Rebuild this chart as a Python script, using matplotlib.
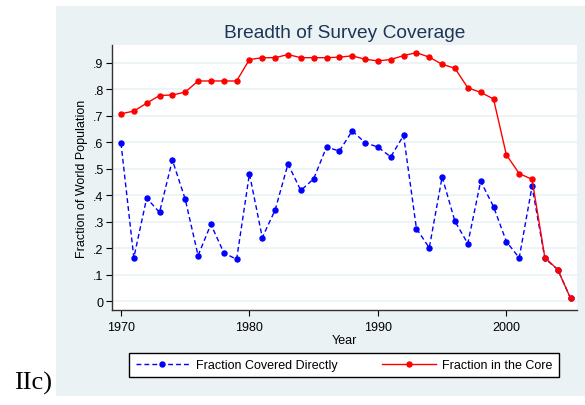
import numpy as np
import matplotlib
matplotlib.use('Agg')
import matplotlib.pyplot as plt
from matplotlib.patches import Rectangle

plt.rcParams['font.family'] = ['Liberation Sans', 'DejaVu Sans']

# data
years = np.arange(1970, 2006)
directly = [0.597, 0.164, 0.389, 0.335, 0.533, 0.385, 0.172, 0.290, 0.183, 0.157,
            0.481, 0.240, 0.344, 0.518, 0.418, 0.462, 0.582, 0.567, 0.643, 0.599,
            0.582, 0.545, 0.626, 0.274, 0.201, 0.469, 0.301, 0.217, 0.453, 0.357,
            0.225, 0.163, 0.433, 0.161, 0.119, 0.010]
core = [0.708, 0.718, 0.748, 0.777, 0.779, 0.790, 0.832, 0.832, 0.832, 0.832,
        0.913, 0.920, 0.920, 0.932, 0.920, 0.920, 0.920, 0.922, 0.927, 0.914,
        0.908, 0.913, 0.928, 0.939, 0.922, 0.895, 0.880, 0.806, 0.789, 0.764,
        0.553, 0.482, 0.460, 0.164, 0.119, 0.010]
yticks = [0, .1, .2, .3, .4, .5, .6, .7, .8, .9]
ytick_labels = ['0', '.1', '.2', '.3', '.4', '.5', '.6', '.7', '.8', '.9']
xticks = [1970, 1980, 1990, 2000]

W, H = 585, 406
panel_col = '#EAF2F3'

fig = plt.figure(figsize=(W / 100, H / 100), dpi=100)
# Stata-like background panel
fig.patches.append(Rectangle((56 / W, 1 - 397 / H), (W - 56) / W, (397 - 7) / H,
                             transform=fig.transFigure, facecolor=panel_col,
                             edgecolor='none', zorder=-1))

ax = fig.add_axes([112 / W, 1 - 311 / H, 465 / W, 265 / H])
ax.set_facecolor('white')

ax.plot(years, directly, color='#0000FF', lw=1, ls=(0, (3.5, 2.2)),
        marker='o', markersize=3.6, label='Fraction Covered Directly')
ax.plot(years, core, color='#FF0000', lw=1, marker='o', markersize=3.6,
        label='Fraction in the Core')

ax.set_xlim(1969.3, 2005.5)
ax.set_ylim(-0.034, 0.968)
ax.set_yticks(yticks)
ax.set_yticklabels(ytick_labels)
ax.set_xticks(xticks)
ax.tick_params(direction='out', length=4, width=0.8, labelsize=9, colors='black')
ax.tick_params(axis='y', pad=2)
ax.tick_params(axis='x', pad=4)
ax.yaxis.grid(True, color=panel_col, lw=1.2)
ax.set_axisbelow(True)
for s in ['top', 'right']:
    ax.spines[s].set_visible(False)
for s in ['left', 'bottom']:
    ax.spines[s].set_color('#333333')
    ax.spines[s].set_linewidth(1)

ax.set_title('Breadth of Survey Coverage', fontsize=13.8, color='#1E3559', pad=6)
ax.set_ylabel('Fraction of World Population', fontsize=9, labelpad=4)
ax.set_xlabel('Year', fontsize=9, labelpad=1)

fig.legend(loc='center', bbox_to_anchor=(344 / W, 1 - 366 / H), ncol=2,
           fontsize=9, frameon=True, fancybox=False, edgecolor='black',
           framealpha=1, handlelength=4.3, numpoints=1, columnspacing=3.6,
           handletextpad=0.5, borderpad=0.5)

fig.text(14 / W, 1 - 390 / H, 'IIc)', fontsize=19, family='Liberation Serif',
         va='baseline')

fig.savefig('out.png', dpi=100)
